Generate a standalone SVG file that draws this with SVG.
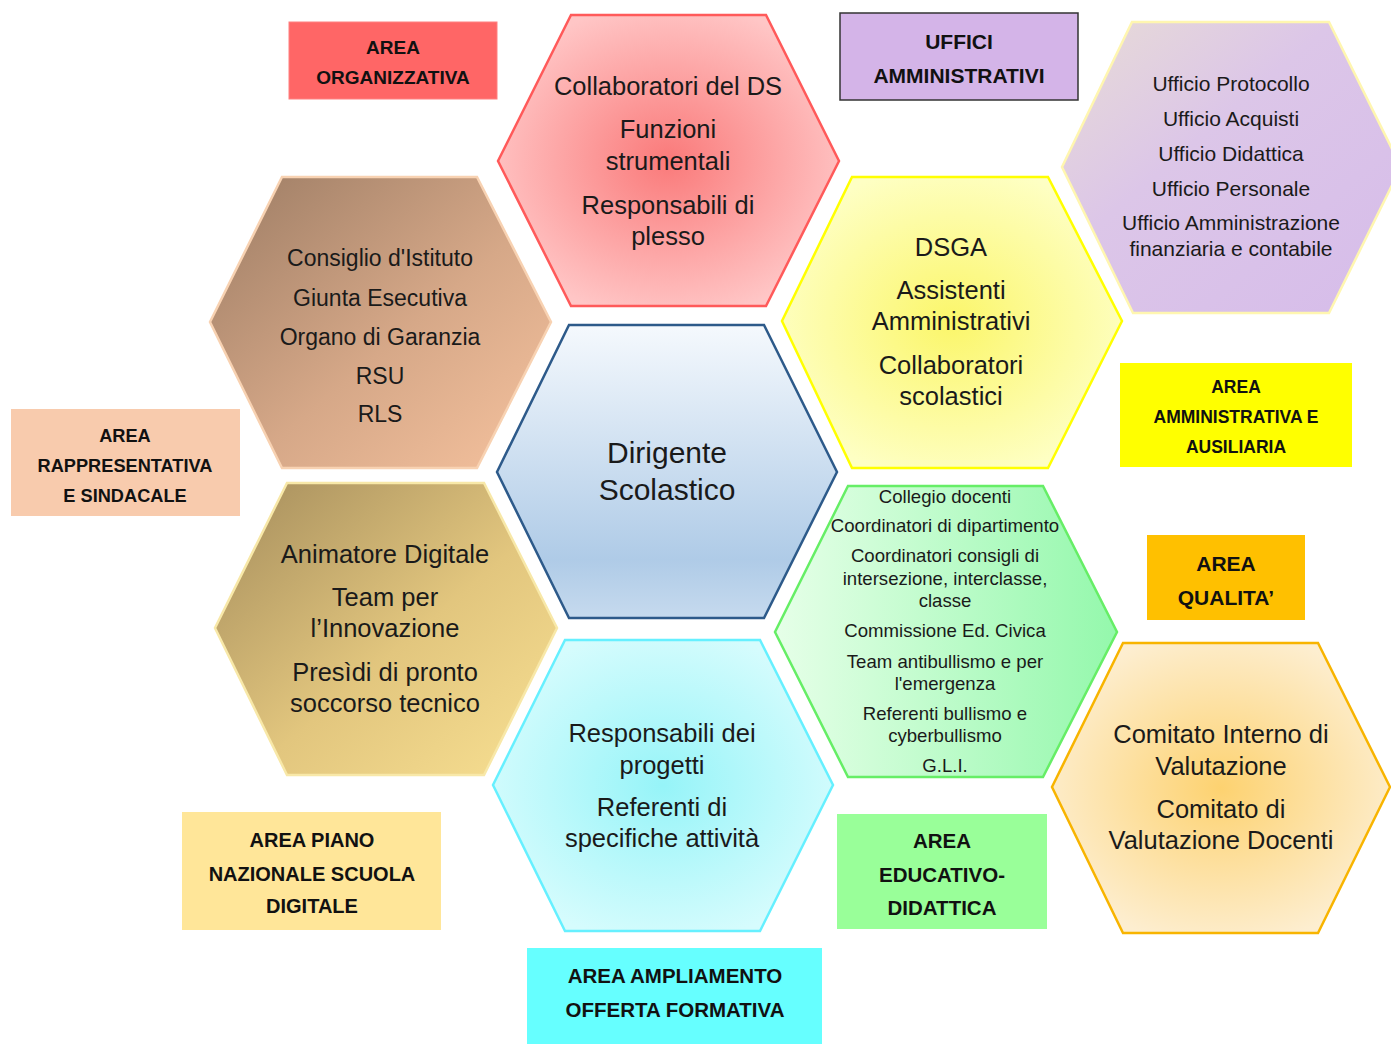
<svg xmlns="http://www.w3.org/2000/svg" width="1391" height="1044" viewBox="0 0 1391 1044">
<style>
  .hex { stroke-width: 2.5; stroke-linejoin: miter; }
  .t { font-family: "Liberation Sans", Arial, sans-serif; fill: #1a1a1a; text-anchor: middle; }
  .lbl { font-family: "Liberation Sans", Arial, sans-serif; font-weight: bold; fill: #111; text-anchor: middle; }
</style>
<defs>
  <radialGradient id="gRed" cx="0.5" cy="0.5" r="0.55">
    <stop offset="0" stop-color="#fa7a7a"/>
    <stop offset="1" stop-color="#ffc6c6"/>
  </radialGradient>
  <linearGradient id="gPurple" x1="0" y1="0" x2="1" y2="1">
    <stop offset="0" stop-color="#e8dcd6"/>
    <stop offset="0.4" stop-color="#dcc6e8"/>
    <stop offset="1" stop-color="#d6bcea"/>
  </linearGradient>
  <linearGradient id="gBrown" x1="0" y1="0" x2="1" y2="1">
    <stop offset="0" stop-color="#9c7c64"/>
    <stop offset="0.55" stop-color="#d6a888"/>
    <stop offset="1" stop-color="#f6c29e"/>
  </linearGradient>
  <linearGradient id="gBlue" x1="0" y1="0" x2="0" y2="1">
    <stop offset="0" stop-color="#f5f9fd"/>
    <stop offset="0.8" stop-color="#afcbe7"/>
    <stop offset="1" stop-color="#c6daee"/>
  </linearGradient>
  <radialGradient id="gYellow" cx="0.5" cy="0.5" r="0.55">
    <stop offset="0" stop-color="#fbf66a"/>
    <stop offset="1" stop-color="#feffc4"/>
  </radialGradient>
  <linearGradient id="gGreen" x1="0" y1="0" x2="1" y2="0">
    <stop offset="0" stop-color="#e6ffe8"/>
    <stop offset="1" stop-color="#94f8ac"/>
  </linearGradient>
  <linearGradient id="gGold" x1="0" y1="0" x2="1" y2="1">
    <stop offset="0" stop-color="#a48c5c"/>
    <stop offset="0.55" stop-color="#e2c67e"/>
    <stop offset="1" stop-color="#f8e092"/>
  </linearGradient>
  <radialGradient id="gCyan" cx="0.5" cy="0.5" r="0.55">
    <stop offset="0" stop-color="#96f4f8"/>
    <stop offset="1" stop-color="#d6fcfd"/>
  </radialGradient>
  <radialGradient id="gOrange" cx="0.5" cy="0.5" r="0.55">
    <stop offset="0" stop-color="#fdd270"/>
    <stop offset="1" stop-color="#fdeed0"/>
  </radialGradient>
</defs>
<rect width="1391" height="1044" fill="#ffffff"/>
<g id="connectors"/>

<g id="hex-organizzativa">
  <polygon class="hex" points="571,15 766,15 839,161 766,306 571,306 498,161" fill="url(#gRed)" stroke="#ff5a5a"/>
  <text class="t" font-size="25.5" x="668" y="94.5">Collaboratori del DS</text>
  <text class="t" font-size="25.5" x="668" y="137.5">Funzioni</text>
  <text class="t" font-size="25.5" x="668" y="169.5">strumentali</text>
  <text class="t" font-size="25.5" x="668" y="213.5">Responsabili di</text>
  <text class="t" font-size="25.5" x="668" y="244.5">plesso</text>
</g>

<g id="hex-uffici">
  <polygon class="hex" points="1132,22 1329,22 1401,167 1329,313 1133,313 1062,167" fill="url(#gPurple)" stroke="#fff6b0"/>
  <text class="t" font-size="21" x="1231" y="91">Ufficio Protocollo</text>
  <text class="t" font-size="21" x="1231" y="126">Ufficio Acquisti</text>
  <text class="t" font-size="21" x="1231" y="161">Ufficio Didattica</text>
  <text class="t" font-size="21" x="1231" y="196">Ufficio Personale</text>
  <text class="t" font-size="21" x="1231" y="230">Ufficio Amministrazione</text>
  <text class="t" font-size="21" x="1231" y="256">finanziaria e contabile</text>
</g>

<g id="hex-rappresentativa">
  <polygon class="hex" points="282,177 477,177 551,322 477,468 282,468 210,322" fill="url(#gBrown)" stroke="#f8d2b2"/>
  <text class="t" font-size="23" x="380" y="266">Consiglio d'Istituto</text>
  <text class="t" font-size="23" x="380" y="306">Giunta Esecutiva</text>
  <text class="t" font-size="23" x="380" y="345">Organo di Garanzia</text>
  <text class="t" font-size="23" x="380" y="384">RSU</text>
  <text class="t" font-size="23" x="380" y="422">RLS</text>
</g>

<g id="hex-dirigente">
  <polygon class="hex" points="569,325 764,325 837,472 764,618 569,618 497,472" fill="url(#gBlue)" stroke="#2d5a8a"/>
  <text class="t" font-size="30" x="667" y="463">Dirigente</text>
  <text class="t" font-size="30" x="667" y="500">Scolastico</text>
</g>

<g id="hex-amministrativa">
  <polygon class="hex" points="852,177 1048,177 1122,321 1048,468 852,468 782,321" fill="url(#gYellow)" stroke="#ffff00"/>
  <text class="t" font-size="25.5" x="951" y="255.5">DSGA</text>
  <text class="t" font-size="25.5" x="951" y="298.5">Assistenti</text>
  <text class="t" font-size="25.5" x="951" y="329.5">Amministrativi</text>
  <text class="t" font-size="25.5" x="951" y="373.5">Collaboratori</text>
  <text class="t" font-size="25.5" x="951" y="404.5">scolastici</text>
</g>

<g id="hex-educativo">
  <polygon class="hex" points="848,486 1043,486 1117,632 1043,777 848,777 775,632" fill="url(#gGreen)" stroke="#66ee66"/>
  <text class="t" font-size="18.6" x="945" y="503">Collegio docenti</text>
  <text class="t" font-size="18.6" x="945" y="532">Coordinatori di dipartimento</text>
  <text class="t" font-size="18.6" x="945" y="562">Coordinatori consigli di</text>
  <text class="t" font-size="18.6" x="945" y="585">intersezione, interclasse,</text>
  <text class="t" font-size="18.6" x="945" y="607">classe</text>
  <text class="t" font-size="18.6" x="945" y="637">Commissione Ed. Civica</text>
  <text class="t" font-size="18.6" x="945" y="668">Team antibullismo e per</text>
  <text class="t" font-size="18.6" x="945" y="690">l'emergenza</text>
  <text class="t" font-size="18.6" x="945" y="720">Referenti bullismo e</text>
  <text class="t" font-size="18.6" x="945" y="742">cyberbullismo</text>
  <text class="t" font-size="18.6" x="945" y="772">G.L.I.</text>
</g>

<g id="hex-pnsd">
  <polygon class="hex" points="287,483 484,483 557,628 484,775 287,775 215,628" fill="url(#gGold)" stroke="#f8e8a8"/>
  <text class="t" font-size="25.5" x="385" y="562.5">Animatore Digitale</text>
  <text class="t" font-size="25.5" x="385" y="605.5">Team per</text>
  <text class="t" font-size="25.5" x="385" y="636.5">l’Innovazione</text>
  <text class="t" font-size="25.5" x="385" y="680.5">Presìdi di pronto</text>
  <text class="t" font-size="25.5" x="385" y="711.5">soccorso tecnico</text>
</g>

<g id="hex-ampliamento">
  <polygon class="hex" points="565,640 760,640 833,785 760,931 565,931 493,785" fill="url(#gCyan)" stroke="#66f0ff"/>
  <text class="t" font-size="25.5" x="662" y="741.5">Responsabili dei</text>
  <text class="t" font-size="25.5" x="662" y="773.5">progetti</text>
  <text class="t" font-size="25.5" x="662" y="815.5">Referenti di</text>
  <text class="t" font-size="25.5" x="662" y="846.5">specifiche attività</text>
</g>

<g id="hex-qualita">
  <polygon class="hex" points="1123,643 1318,643 1390,787 1318,933 1123,933 1052,787" fill="url(#gOrange)" stroke="#f8b400"/>
  <text class="t" font-size="25.5" x="1221" y="742.5">Comitato Interno di</text>
  <text class="t" font-size="25.5" x="1221" y="774.5">Valutazione</text>
  <text class="t" font-size="25.5" x="1221" y="817.5">Comitato di</text>
  <text class="t" font-size="25.5" x="1221" y="848.5">Valutazione Docenti</text>
</g>

<g id="label-organizzativa">
  <rect x="289" y="22" width="208" height="77" fill="#ff6666" stroke="#ff8080" stroke-width="1"/>
  <text class="lbl" font-size="19" x="393" y="54">AREA</text>
  <text class="lbl" font-size="19" x="393" y="84">ORGANIZZATIVA</text>
</g>

<g id="label-uffici">
  <rect x="840" y="13" width="238" height="87" fill="#d4b4e8" stroke="#333333" stroke-width="1.5"/>
  <text class="lbl" font-size="21" x="959" y="48.5">UFFICI</text>
  <text class="lbl" font-size="21" x="959" y="82.5">AMMINISTRATIVI</text>
</g>

<g id="label-rappresentativa">
  <rect x="11" y="409" width="229" height="107" fill="#f8cbad"/>
  <text class="lbl" font-size="18.2" x="125" y="441.5">AREA</text>
  <text class="lbl" font-size="18.2" x="125" y="471.5">RAPPRESENTATIVA</text>
  <text class="lbl" font-size="18.2" x="125" y="501.5">E SINDACALE</text>
</g>

<g id="label-amministrativa">
  <rect x="1120" y="363" width="232" height="104" fill="#ffff00"/>
  <text class="lbl" font-size="17.5" x="1236" y="393.3">AREA</text>
  <text class="lbl" font-size="17.5" x="1236" y="423.3">AMMINISTRATIVA E</text>
  <text class="lbl" font-size="17.5" x="1236" y="453.3">AUSILIARIA</text>
</g>

<g id="label-qualita">
  <rect x="1147" y="535" width="158" height="85" fill="#ffc000"/>
  <text class="lbl" font-size="21" x="1226" y="570.5">AREA</text>
  <text class="lbl" font-size="21" x="1226" y="604.5">QUALITA’</text>
</g>

<g id="label-pnsd">
  <rect x="182" y="812" width="259" height="118" fill="#ffe699"/>
  <text class="lbl" font-size="20" x="312" y="847">AREA PIANO</text>
  <text class="lbl" font-size="20" x="312" y="881">NAZIONALE SCUOLA</text>
  <text class="lbl" font-size="20" x="312" y="913">DIGITALE</text>
</g>

<g id="label-ampliamento">
  <rect x="527" y="948" width="295" height="96" fill="#66ffff"/>
  <text class="lbl" font-size="20.5" x="675" y="983.4">AREA AMPLIAMENTO</text>
  <text class="lbl" font-size="20.5" x="675" y="1017.4">OFFERTA FORMATIVA</text>
</g>

<g id="label-educativo">
  <rect x="837" y="814" width="210" height="115" fill="#99ff99"/>
  <text class="lbl" font-size="20.5" x="942" y="848.4">AREA</text>
  <text class="lbl" font-size="20.5" x="942" y="882.4">EDUCATIVO-</text>
  <text class="lbl" font-size="20.5" x="942" y="915.4">DIDATTICA</text>
</g>
</svg>
